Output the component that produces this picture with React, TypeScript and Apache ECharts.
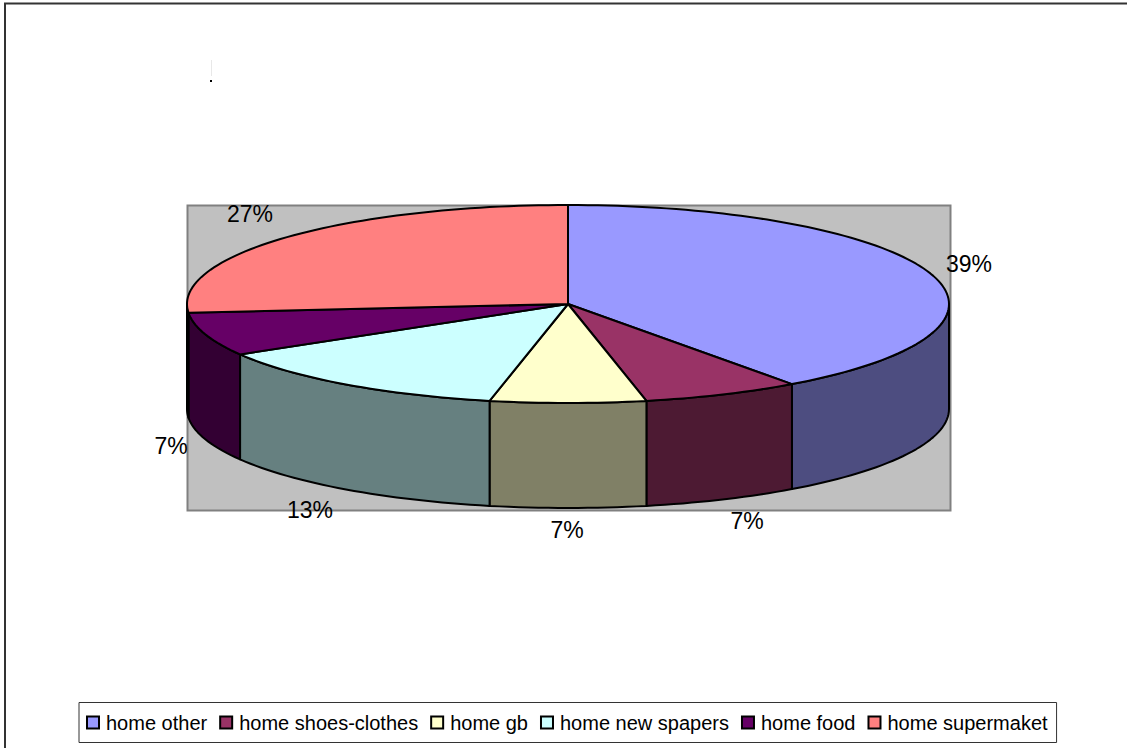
import React, { useEffect, useRef } from "react";
import * as echarts from "echarts";

const categories = ["home other", "home shoes-clothes", "home gb", "home new spapers", "home food", "home supermaket"];
const values = [40.0, 6.7, 6.6, 13.2, 7.1, 26.4];
const percentLabels = ["39%", "7%", "7%", "13%", "7%", "27%"];
const topColors = ["#9999FF", "#993366", "#FFFFCC", "#CCFFFF", "#660066", "#FF8080"];
const sideColors = ["#4D4D80", "#4D1A33", "#808066", "#668080", "#330033", "#804040"];
const labelAnchors = [[969, 264], [747, 521], [567, 530], [310, 510], [171, 446], [250, 214]];

const CX = 568, CY = 304, RX = 381, RY = 99, DEPTH = 105;
const total = values.reduce((a, b) => a + b, 0);
const pt = (deg: number, dy = 0): number[] => {
  const r = (deg * Math.PI) / 180;
  return [CX + RX * Math.sin(r), CY - RY * Math.cos(r) + dy];
};
const arc = (a0: number, a1: number, dy = 0): number[][] => {
  const n = Math.max(2, Math.ceil(Math.abs(a1 - a0) / 1.5));
  const out: number[][] = [];
  for (let i = 0; i <= n; i++) out.push(pt(a0 + ((a1 - a0) * i) / n, dy));
  return out;
};
const startAngle = (i: number) => (values.slice(0, i).reduce((a, b) => a + b, 0) / total) * 360;

const stroke = { stroke: "#000", lineWidth: 2, lineJoin: "round" as const };

const sliceSeries = categories.map((name, i) => ({
  type: "custom" as const,
  name,
  coordinateSystem: "none" as const,
  z: 2,
  silent: true,
  data: [values[i]],
  itemStyle: { color: topColors[i] },
  renderItem: () => {
    const a0 = startAngle(i);
    const a1 = startAngle(i + 1);
    const children: any[] = [];
    const w0 = Math.max(a0, 90);
    const w1 = Math.min(a1, 270);
    if (w1 > w0) {
      children.push({
        type: "polygon",
        shape: { points: [...arc(w0, w1), ...arc(w1, w0, DEPTH)] },
        style: { fill: sideColors[i], ...stroke },
      });
    }
    children.push({
      type: "polygon",
      shape: { points: [[CX, CY], ...arc(a0, a1)] },
      style: { fill: topColors[i], ...stroke },
    });
    children.push({
      type: "text",
      z2: 10,
      style: {
        x: labelAnchors[i][0],
        y: labelAnchors[i][1],
        text: percentLabels[i],
        fill: "#000",
        font: '23px "Liberation Sans", Arial, sans-serif',
        align: "center",
        verticalAlign: "middle",
      },
    });
    return { type: "group", children };
  },
}));

export default function App() {
  const ref = useRef<HTMLDivElement>(null);
  useEffect(() => {
    document.body.style.margin = "0";
    const chart = echarts.init(ref.current!, undefined, { renderer: "svg" });
    chart.setOption({
      animation: false,
      backgroundColor: "#FFFFFF",
      textStyle: { fontFamily: '"Liberation Sans", Arial, sans-serif' },
      graphic: [
        { type: "rect", z: 0, shape: { x: 5, y: 3.5, width: 1140, height: 770 }, style: { fill: "#FFFFFF", stroke: "#333333", lineWidth: 2 } },
        { type: "rect", z: 0, shape: { x: 187.5, y: 205.5, width: 763, height: 305 }, style: { fill: "#C0C0C0", stroke: "#808080", lineWidth: 2 } },
        { type: "line", z: 0, shape: { x1: 211.5, y1: 60, x2: 211.5, y2: 76 }, style: { stroke: "#E8E8E8", lineWidth: 1 } },
        { type: "rect", z: 0, shape: { x: 210, y: 80, width: 2, height: 2 }, style: { fill: "#000000" } },
      ],
      legend: {
        left: 79,
        top: 702.5,
        orient: "horizontal",
        padding: [10, 9, 10, 7],
        itemGap: 12,
        itemWidth: 12,
        itemHeight: 12,
        backgroundColor: "#FFFFFF",
        borderColor: "#333333",
        borderWidth: 1,
        selectedMode: false,
        textStyle: { fontSize: 20, color: "#000", fontFamily: '"Liberation Sans", Arial, sans-serif', padding: [0, 0, 0, 2] },
        data: categories.map((name, i) => ({
          name,
          icon: "rect",
          itemStyle: { color: topColors[i], borderColor: "#000", borderWidth: 2 },
        })),
      },
      series: sliceSeries,
    });
    return () => chart.dispose();
  }, []);
  return <div ref={ref} style={{ position: "absolute", left: 0, top: 0, width: 1127, height: 748 }} />;
}
